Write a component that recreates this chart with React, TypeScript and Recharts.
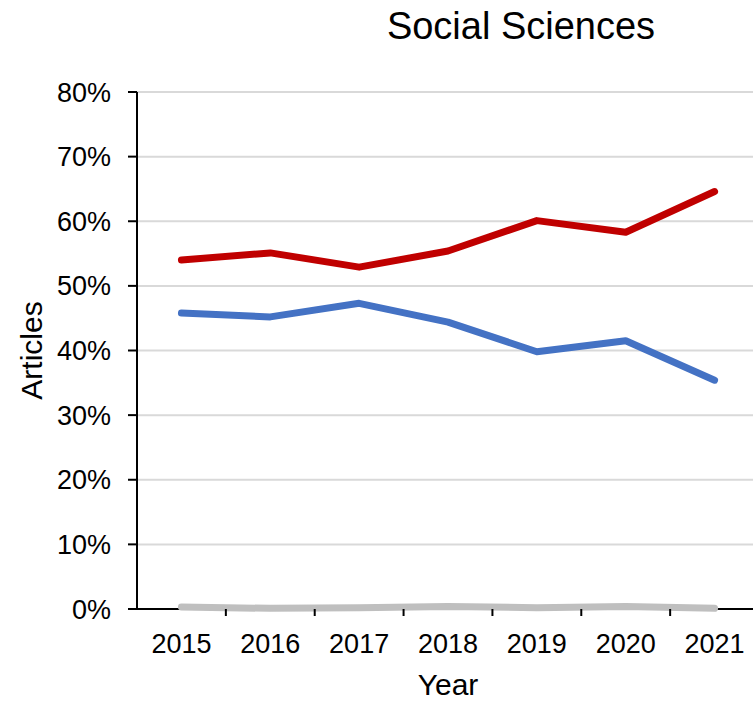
import React from 'react';
import { LineChart, Line, XAxis, YAxis, CartesianGrid } from 'recharts';

const years = ['2015', '2016', '2017', '2018', '2019', '2020', '2021'];
const redSeries = [54.0, 55.1, 52.9, 55.4, 60.1, 58.3, 64.6];
const blueSeries = [45.8, 45.2, 47.3, 44.4, 39.8, 41.5, 35.4];
const graySeries = [0.3, 0.1, 0.2, 0.4, 0.2, 0.4, 0.1];
const yTicks = [0, 10, 20, 30, 40, 50, 60, 70, 80];

const data = years.map((y, i) => ({
  year: y,
  red: redSeries[i],
  blue: blueSeries[i],
  gray: graySeries[i],
}));

const FONT = '"Liberation Sans", Arial, sans-serif';
const CHART_W = 759;
const CHART_H = 701;
const Y_AXIS_W = 137;
const HALF_BAND = (CHART_W - Y_AXIS_W) / years.length / 2;
const TICK_SIZE = 7;
const TICK_MARGIN = 18;
const LINE_W = 7;

const XTick = (props: any) => {
  const { x, y, payload, index } = props;
  const axisY = y - TICK_SIZE - TICK_MARGIN;
  return (
    <g>
      {index > 0 && (
        <line
          x1={x - HALF_BAND}
          x2={x - HALF_BAND}
          y1={axisY}
          y2={axisY + TICK_SIZE}
          stroke="#000"
          strokeWidth={2}
        />
      )}
      <text
        x={x}
        y={y}
        dy="0.71em"
        textAnchor="middle"
        fill="#000"
        fontSize={27}
        fontFamily={FONT}
      >
        {payload.value}
      </text>
    </g>
  );
};

export default function App() {
  return (
    <div
      style={{
        position: 'absolute',
        left: 0,
        top: 0,
        width: 753,
        height: 701,
        overflow: 'hidden',
        background: '#fff',
        fontFamily: FONT,
      }}
    >
      <LineChart
        width={CHART_W}
        height={CHART_H}
        data={data}
        margin={{ top: 92, right: 0, bottom: 0, left: 0 }}
      >
        <CartesianGrid vertical={false} stroke="#d9d9d9" strokeWidth={2} />
        <CartesianGrid
          vertical={false}
          horizontalValues={[0]}
          stroke="#000"
          strokeWidth={2}
        />
        <XAxis
          dataKey="year"
          height={92}
          padding={{ left: HALF_BAND, right: HALF_BAND }}
          axisLine={false}
          tickLine={false}
          tickSize={TICK_SIZE}
          tickMargin={TICK_MARGIN}
          tick={<XTick />}
          interval={0}
          label={{
            value: 'Year',
            position: 'insideBottom',
            offset: 6,
            fill: '#000',
            fontSize: 30,
            fontFamily: FONT,
          }}
        />
        <YAxis
          width={Y_AXIS_W}
          domain={[0, 80]}
          ticks={yTicks}
          interval={0}
          tickFormatter={(v: number) => `${v}%`}
          axisLine={{ stroke: '#000', strokeWidth: 2 }}
          tickLine={{ stroke: '#000', strokeWidth: 2 }}
          tickSize={9}
          tickMargin={17}
          tick={{ fill: '#000', fontSize: 27, fontFamily: FONT }}
          label={{
            value: 'Articles',
            angle: -90,
            position: 'insideLeft',
            offset: 31,
            fill: '#000',
            fontSize: 30,
            fontFamily: FONT,
            style: { textAnchor: 'middle' },
          }}
        />
        <Line
          dataKey="gray"
          stroke="#bfbfbf"
          strokeWidth={LINE_W}
          strokeLinecap="round"
          strokeLinejoin="round"
          dot={false}
          isAnimationActive={false}
        />
        <Line
          dataKey="blue"
          stroke="#4472c4"
          strokeWidth={LINE_W}
          strokeLinecap="round"
          strokeLinejoin="round"
          dot={false}
          isAnimationActive={false}
        />
        <Line
          dataKey="red"
          stroke="#c00000"
          strokeWidth={LINE_W}
          strokeLinecap="round"
          strokeLinejoin="round"
          dot={false}
          isAnimationActive={false}
        />
      </LineChart>
      <svg
        width={753}
        height={60}
        style={{ position: 'absolute', left: 0, top: 0, pointerEvents: 'none' }}
      >
        <text
          x={521}
          y={39}
          textAnchor="middle"
          fill="#000"
          fontSize={38}
          fontFamily={FONT}
        >
          Social Sciences
        </text>
      </svg>
    </div>
  );
}
